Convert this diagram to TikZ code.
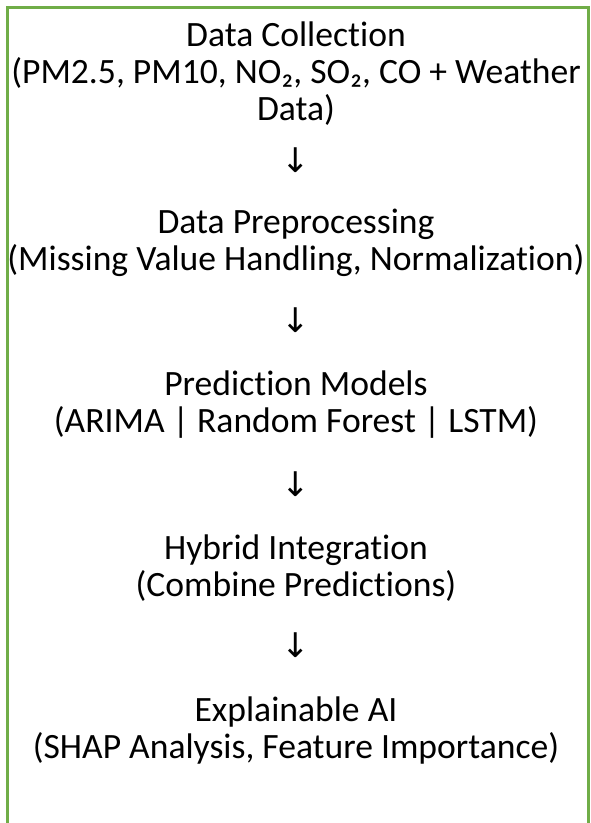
\documentclass[tikz,border=0pt]{standalone}
\usepackage{fontspec}
\setmainfont{Carlito}[Ligatures=NoCommon]
\newfontfamily\arrowfont{DejaVu Sans}
\definecolor{framegreen}{HTML}{70AD47}
\begin{document}
\begin{tikzpicture}[x=1pt,y=-1pt]
		\tikzstyle{stage}=[align=center,font=\fontsize{35.6}{37}\selectfont,inner sep=0pt]
		\tikzstyle{arr}=[font=\arrowfont\fontsize{34}{36}\selectfont,inner sep=0pt]
		\useasboundingbox (0,0) rectangle (590,823);
		\draw[framegreen,line width=2.2pt] (7.5,823) -- (7.5,7.5) -- (590,7.5);
		\draw[framegreen,line width=2.2pt] (588.5,7.5) -- (588.5,823);
		\node[stage] (s_1) at (296,74) {Data Collection\\(PM2.5, PM10, NO₂, SO₂, CO + Weather\\Data)};
		\node[arr] (a_1) at (296,160) {↓};
		\node[stage] (s_2) at (296,243) {Data Preprocessing\\(Missing Value Handling, Normalization)};
		\node[arr] (a_2) at (296,320) {↓};
		\node[stage] (s_3) at (296,405) {Prediction Models\\(ARIMA | Random Forest | LSTM)};
		\node[arr] (a_3) at (296,484) {↓};
		\node[stage] (s_4) at (296,568) {Hybrid Integration\\(Combine Predictions)};
		\node[arr] (a_4) at (296,645) {↓};
		\node[stage] (s_5) at (296,730) {Explainable AI\\(SHAP Analysis, Feature Importance)};
	\end{tikzpicture}
\end{document}
